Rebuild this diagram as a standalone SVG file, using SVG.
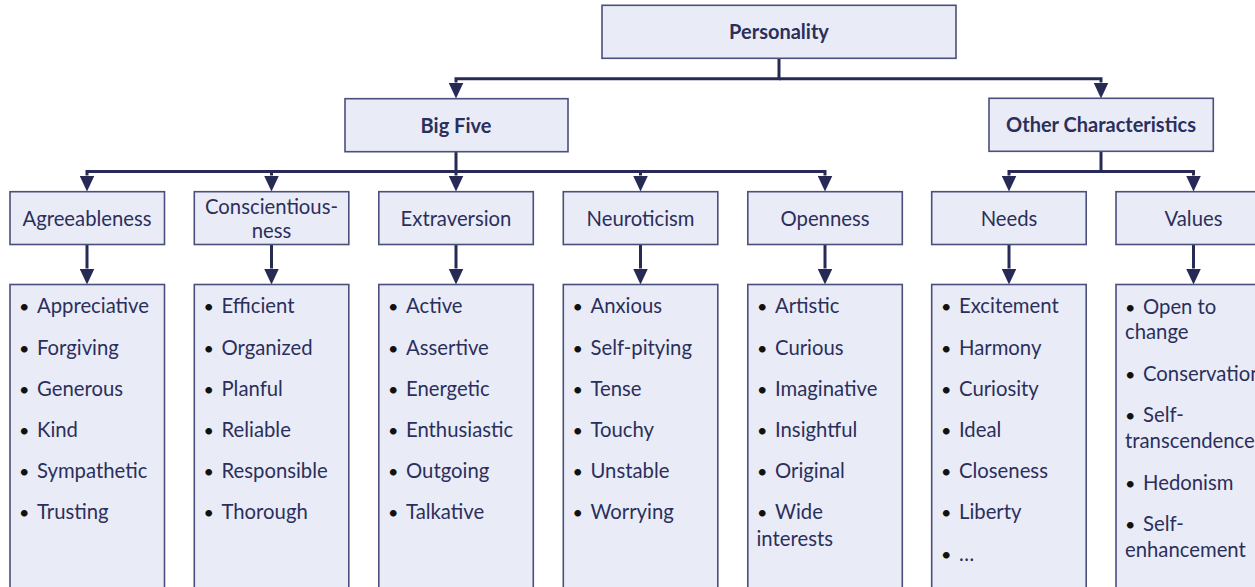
<svg xmlns="http://www.w3.org/2000/svg" width="1255" height="587" viewBox="0 0 1255 587">
  <style>
    .box { fill: #e9ecf6; stroke: #4b4f7c; stroke-width: 1.6; }
    .conn { fill: none; stroke: #262a55; stroke-width: 3; stroke-linejoin: miter; marker-end: url(#arrow); }
    .title { font-family: Lato, "Liberation Sans", sans-serif; font-weight: bold; font-size: 20px; fill: #2b2f5c; text-anchor: middle; }
    .head { font-family: Lato, "Liberation Sans", sans-serif; font-size: 20.3px; fill: #2b2f5c; text-anchor: middle; }
    .item { font-family: Lato, "Liberation Sans", sans-serif; font-size: 20.3px; fill: #2b2f5c; }
    .dot { font-family: Lato, "Liberation Sans", sans-serif; font-size: 18px; fill: #111111; }
  </style>
  <defs>
    <marker id="arrow" markerUnits="userSpaceOnUse" markerWidth="16" markerHeight="15" refX="0" refY="7.5" orient="auto">
      <path d="M0,0 L16,7.5 L0,15 z" fill="#262a55"/>
    </marker>
  </defs>

  <rect width="1255" height="587" fill="#ffffff"/>

  <!-- connectors -->
  <g id="connectors">
    <path class="conn" d="M779,58 V78.7 H456 V82.5"/>
    <path class="conn" d="M779,78.7 H1101 V82.5"/>
    <path class="conn" d="M456,152 V171.5 H87 V175.5"/>
    <path class="conn" d="M456,171.5 H271.5 V175.5"/>
    <path class="conn" d="M456,171.5 V175.5"/>
    <path class="conn" d="M456,171.5 H640.5 V175.5"/>
    <path class="conn" d="M456,171.5 H825 V175.5"/>
    <path class="conn" d="M1101,151.5 V171.5 H1009 V175.5"/>
    <path class="conn" d="M1101,171.5 H1193.5 V175.5"/>
    <path class="conn" d="M87,244.5 V268.5"/>
    <path class="conn" d="M271.5,244.5 V268.5"/>
    <path class="conn" d="M456,244.5 V268.5"/>
    <path class="conn" d="M640.5,244.5 V268.5"/>
    <path class="conn" d="M825,244.5 V268.5"/>
    <path class="conn" d="M1009,244.5 V268.5"/>
    <path class="conn" d="M1193.5,244.5 V268.5"/>
  </g>

  <!-- top levels -->
  <g id="personality">
    <rect class="box" x="602" y="5.3" width="354" height="53"/>
    <text class="title" x="779" y="39">Personality</text>
  </g>
  <g id="big-five">
    <rect class="box" x="345" y="98.7" width="223" height="53"/>
    <text class="title" x="456" y="132.5">Big Five</text>
  </g>
  <g id="other-characteristics">
    <rect class="box" x="989" y="98.3" width="224.3" height="53"/>
    <text class="title" x="1101" y="132">Other Characteristics</text>
  </g>

  <!-- trait headings -->
  <g id="agreeableness">
    <rect class="box" x="10" y="191.7" width="154.5" height="52.8"/>
    <text class="head" x="87" y="226">Agreeableness</text>
  </g>
  <g id="conscientiousness">
    <rect class="box" x="194.3" y="191.7" width="154.5" height="52.8"/>
    <text class="head" x="271.5" y="213.5">Conscientious-</text>
    <text class="head" x="271.5" y="238">ness</text>
  </g>
  <g id="extraversion">
    <rect class="box" x="378.8" y="191.7" width="154.5" height="52.8"/>
    <text class="head" x="456" y="226">Extraversion</text>
  </g>
  <g id="neuroticism">
    <rect class="box" x="563.3" y="191.7" width="154.5" height="52.8"/>
    <text class="head" x="640.5" y="226">Neuroticism</text>
  </g>
  <g id="openness">
    <rect class="box" x="747.8" y="191.7" width="154.5" height="52.8"/>
    <text class="head" x="825" y="226">Openness</text>
  </g>
  <g id="needs">
    <rect class="box" x="931.7" y="191.7" width="154.5" height="52.8"/>
    <text class="head" x="1009" y="226">Needs</text>
  </g>
  <g id="values">
    <rect class="box" x="1116" y="191.7" width="154.5" height="52.8"/>
    <text class="head" x="1193.5" y="226">Values</text>
  </g>

  <!-- item lists -->
  <g id="agreeableness-items">
    <rect class="box" x="10" y="284.5" width="154.5" height="320"/>
    <g class="dot"><text x="19" y="313.3">•</text><text x="19" y="354.5">•</text><text x="19" y="395.7">•</text><text x="19" y="437">•</text><text x="19" y="478.2">•</text><text x="19" y="519.4">•</text></g>
    <g class="item"><text x="37" y="313.3">Appreciative</text><text x="37" y="354.5">Forgiving</text><text x="37" y="395.7">Generous</text><text x="37" y="437">Kind</text><text x="37" y="478.2">Sympathetic</text><text x="37" y="519.4">Trusting</text></g>
  </g>
  <g id="conscientiousness-items">
    <rect class="box" x="194.3" y="284.5" width="154.5" height="320"/>
    <g class="dot"><text x="203.5" y="313.3">•</text><text x="203.5" y="354.5">•</text><text x="203.5" y="395.7">•</text><text x="203.5" y="437">•</text><text x="203.5" y="478.2">•</text><text x="203.5" y="519.4">•</text></g>
    <g class="item"><text x="221.5" y="313.3">Efficient</text><text x="221.5" y="354.5">Organized</text><text x="221.5" y="395.7">Planful</text><text x="221.5" y="437">Reliable</text><text x="221.5" y="478.2">Responsible</text><text x="221.5" y="519.4">Thorough</text></g>
  </g>
  <g id="extraversion-items">
    <rect class="box" x="378.8" y="284.5" width="154.5" height="320"/>
    <g class="dot"><text x="388" y="313.3">•</text><text x="388" y="354.5">•</text><text x="388" y="395.7">•</text><text x="388" y="437">•</text><text x="388" y="478.2">•</text><text x="388" y="519.4">•</text></g>
    <g class="item"><text x="406" y="313.3">Active</text><text x="406" y="354.5">Assertive</text><text x="406" y="395.7">Energetic</text><text x="406" y="437">Enthusiastic</text><text x="406" y="478.2">Outgoing</text><text x="406" y="519.4">Talkative</text></g>
  </g>
  <g id="neuroticism-items">
    <rect class="box" x="563.3" y="284.5" width="154.5" height="320"/>
    <g class="dot"><text x="572.5" y="313.3">•</text><text x="572.5" y="354.5">•</text><text x="572.5" y="395.7">•</text><text x="572.5" y="437">•</text><text x="572.5" y="478.2">•</text><text x="572.5" y="519.4">•</text></g>
    <g class="item"><text x="590.5" y="313.3">Anxious</text><text x="590.5" y="354.5">Self-pitying</text><text x="590.5" y="395.7">Tense</text><text x="590.5" y="437">Touchy</text><text x="590.5" y="478.2">Unstable</text><text x="590.5" y="519.4">Worrying</text></g>
  </g>
  <g id="openness-items">
    <rect class="box" x="747.8" y="284.5" width="154.5" height="320"/>
    <g class="dot"><text x="757" y="313.3">•</text><text x="757" y="354.5">•</text><text x="757" y="395.7">•</text><text x="757" y="437">•</text><text x="757" y="478.2">•</text><text x="757" y="519.4">•</text></g>
    <g class="item"><text x="775" y="313.3">Artistic</text><text x="775" y="354.5">Curious</text><text x="775" y="395.7">Imaginative</text><text x="775" y="437">Insightful</text><text x="775" y="478.2">Original</text><text x="775" y="519.4">Wide</text><text x="756.5" y="545.5">interests</text></g>
  </g>
  <g id="needs-items">
    <rect class="box" x="931.7" y="284.5" width="154.5" height="320"/>
    <g class="dot"><text x="941" y="313.3">•</text><text x="941" y="354.5">•</text><text x="941" y="395.7">•</text><text x="941" y="437">•</text><text x="941" y="478.2">•</text><text x="941" y="519.4">•</text><text x="941" y="560.6">•</text></g>
    <g class="item"><text x="959" y="313.3">Excitement</text><text x="959" y="354.5">Harmony</text><text x="959" y="395.7">Curiosity</text><text x="959" y="437">Ideal</text><text x="959" y="478.2">Closeness</text><text x="959" y="519.4">Liberty</text><text x="959" y="560.6">…</text></g>
  </g>
  <g id="values-items">
    <rect class="box" x="1116" y="284.5" width="154.5" height="320"/>
    <g class="dot"><text x="1125" y="313.5">•</text><text x="1125" y="380.5">•</text><text x="1125" y="421.5">•</text><text x="1125" y="489.5">•</text><text x="1125" y="530.5">•</text></g>
    <g class="item"><text x="1143" y="313.5">Open to</text><text x="1125" y="338.5">change</text><text x="1143" y="380.5">Conservation</text><text x="1143" y="421.5">Self-</text><text x="1125" y="448">transcendence</text><text x="1143" y="489.5">Hedonism</text><text x="1143" y="530.5">Self-</text><text x="1125" y="556.5">enhancement</text></g>
  </g>
</svg>
